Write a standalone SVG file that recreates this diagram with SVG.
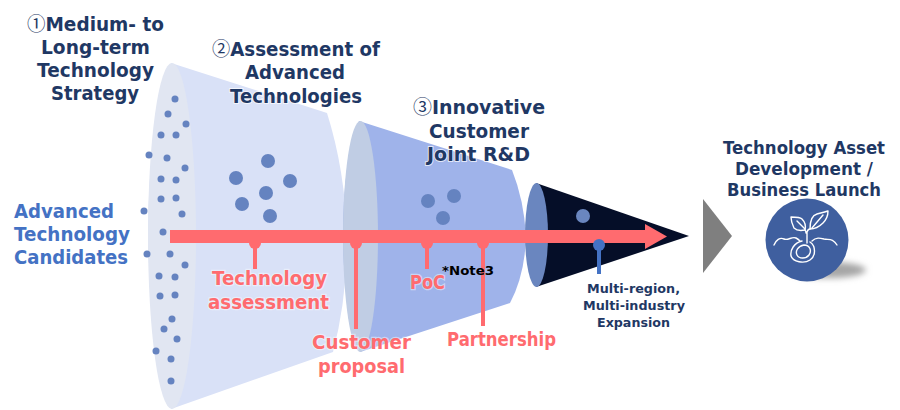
<svg xmlns="http://www.w3.org/2000/svg" width="900" height="410" viewBox="0 0 900 410">
<defs>
<filter id="soft" x="-30%" y="-100%" width="160%" height="300%"><feGaussianBlur stdDeviation="3"/></filter>
</defs>
<style>
text{font-family:"DejaVu Sans",sans-serif;font-weight:700;text-anchor:start}
.num{font-family:"Noto Sans CJK JP","DejaVu Sans",sans-serif;font-weight:400}
.navy{fill:#1f3864;font-size:19px;paint-order:stroke;stroke:#fff;stroke-opacity:.7;stroke-width:2px}
.blue{fill:#4472c4;font-size:19px}
.pink{fill:#ff6b6f;font-size:19px;paint-order:stroke;stroke:#fff;stroke-opacity:.45;stroke-width:2.500px}
.small{fill:#1f3864;font-size:12.500px}
.lg{font-size:17px}
.note{fill:#000;font-size:13px}
.dots circle{fill:#6583c0}
.pin{stroke:#ff6b6f;stroke-width:4;fill:none}
.pinh{fill:#ff6b6f}
.ic{fill:none;stroke:#fff;stroke-width:1.400;stroke-linecap:round;stroke-linejoin:round}
</style>

<g id="cone-1">
<path d="M171 63L327 113Q345 170 347 236Q347 300 333 352L171 409Q148 300 148 236Q148 130 171 63Z" fill="#d9e1f7"/>
<ellipse cx="172" cy="236" rx="24" ry="173" fill="#e1e6f2"/>
<g class="dots">
<circle cx="175" cy="99" r="3.500"/><circle cx="168" cy="114" r="3.500"/><circle cx="186" cy="124" r="3.500"/><circle cx="161" cy="135" r="3.500"/><circle cx="176" cy="135" r="3.500"/><circle cx="149" cy="155" r="3.500"/><circle cx="167" cy="158" r="3.500"/><circle cx="185" cy="168" r="3.500"/><circle cx="161" cy="179" r="3.500"/><circle cx="176" cy="180" r="3.500"/><circle cx="161" cy="199" r="3.500"/><circle cx="176" cy="198" r="3.500"/><circle cx="144" cy="211" r="3.500"/><circle cx="182" cy="214" r="3.500"/><circle cx="163" cy="232" r="3.500"/><circle cx="147" cy="254" r="3.500"/><circle cx="170" cy="254" r="3.500"/><circle cx="185" cy="265" r="3.500"/><circle cx="159" cy="276" r="3.500"/><circle cx="175" cy="277" r="3.500"/><circle cx="160" cy="296" r="3.500"/><circle cx="175" cy="295" r="3.500"/><circle cx="172" cy="319" r="3.500"/><circle cx="164" cy="329" r="3.500"/><circle cx="177" cy="339" r="3.500"/><circle cx="156" cy="351" r="3.500"/><circle cx="171" cy="359" r="3.500"/><circle cx="171" cy="381" r="3.500"/>
<circle cx="268" cy="161" r="7"/><circle cx="236" cy="178" r="7"/><circle cx="290" cy="181" r="7"/><circle cx="266" cy="193" r="7"/><circle cx="242" cy="204" r="7"/><circle cx="270" cy="216" r="7"/>
</g>
</g>

<g id="cone-2">
<path d="M359 121L512 170Q524 200 526 236Q525 275 510 303L360 352Q343 300 343 236Q343 160 359 121Z" fill="#9fb3ea"/>
<ellipse cx="360.500" cy="236.500" rx="17.500" ry="115.500" fill="#c0cde4"/>
<g class="dots"><circle cx="428" cy="201" r="7"/><circle cx="454" cy="196" r="7"/><circle cx="443" cy="218" r="7"/></g>
</g>

<g id="cone-3">
<path d="M536 183L689 236L536 287Z" fill="#050e28"/>
<ellipse cx="536.500" cy="235" rx="11.500" ry="52" fill="#6a86bf"/>
<circle cx="583" cy="216" r="7" fill="#6a86bf"/>
</g>

<g id="connectors">
<path class="pin" d="M255 243V269M356 243V329M427 243V269M483 243V326"/>
<circle class="pinh" cx="255" cy="243" r="6"/><circle class="pinh" cx="356" cy="243" r="6"/><circle class="pinh" cx="427" cy="243" r="6"/><circle class="pinh" cx="483" cy="243" r="6"/>
<path d="M170 230H645V224L667 236.500L645 249V243H170Z" fill="#ff6b6f"/>
<path d="M599 245V274" stroke="#4472c4" stroke-width="4" fill="none"/>
<circle cx="599" cy="245" r="6" fill="#4472c4"/>
<path d="M703 199L732 236L703 273Z" fill="#7f7f7f"/>
</g>

<g id="asset-icon">
<ellipse cx="828" cy="270" rx="38" ry="8" fill="#a6a6a6" filter="url(#soft)"/>
<circle cx="807" cy="240" r="41.500" fill="#3f5f9f"/>
<path class="ic" d="M807 232V243M807 232Q808 229 810 229M806 233Q806 231 805 230"/>
<path class="ic" d="M810 229C810 220 813 215 817 214C821 213 825 212 828 211C828 217 825 221 823 223C819 227 815 229 810 229Z"/>
<path class="ic" d="M805 230C800 231 796 230 794 228C792 224 791 220 791 217C795 217 800 217 802 219C805 222 806 226 805 230Z"/>
<path class="ic" d="M797 221L805 229M823 215L812 228"/>
<path class="ic" d="M774 245C776 240 780 237 784 239C788 241 792 236 796 238C798 239 799 240 800 241"/>
<path class="ic" d="M812 241C816 237 820 238 824 239C829 240 833 238 837 245"/>
<path class="ic" d="M802 241C794 243 790 250 791 256C793 262 804 264 810 260C816 256 816 246 810 242"/>
<path class="ic" d="M804 245C798 246 795 251 797 255C799 259 806 259 809 255C812 251 810 245 804 245Z"/>
</g>

<g id="label-strategy">
<text class="navy" x="27" y="31" textLength="137" lengthAdjust="spacingAndGlyphs"><tspan class="num">①</tspan>Medium- to</text>
<text class="navy" x="41" y="54" textLength="109" lengthAdjust="spacingAndGlyphs">Long-term</text>
<text class="navy" x="37" y="77" textLength="117" lengthAdjust="spacingAndGlyphs">Technology</text>
<text class="navy" x="51" y="100" textLength="88" lengthAdjust="spacingAndGlyphs">Strategy</text>
</g>
<g id="label-candidates">
<text class="blue" x="14" y="218" textLength="100" lengthAdjust="spacingAndGlyphs">Advanced</text>
<text class="blue" x="14" y="241" textLength="116" lengthAdjust="spacingAndGlyphs">Technology</text>
<text class="blue" x="14" y="264" textLength="114" lengthAdjust="spacingAndGlyphs">Candidates</text>
</g>
<g id="label-assessment">
<text class="navy" x="212" y="56" textLength="168" lengthAdjust="spacingAndGlyphs"><tspan class="num">②</tspan>Assessment of</text>
<text class="navy" x="245" y="79" textLength="100" lengthAdjust="spacingAndGlyphs">Advanced</text>
<text class="navy" x="230" y="103" textLength="132" lengthAdjust="spacingAndGlyphs">Technologies</text>
</g>
<g id="label-joint">
<text class="navy" x="413" y="114" textLength="132" lengthAdjust="spacingAndGlyphs"><tspan class="num">③</tspan>Innovative</text>
<text class="navy" x="429" y="138" textLength="100" lengthAdjust="spacingAndGlyphs">Customer</text>
<text class="navy" x="427" y="161" textLength="103" lengthAdjust="spacingAndGlyphs">Joint R&amp;D</text>
</g>
<g id="label-tech-assessment">
<text class="pink" x="212" y="285" textLength="115" lengthAdjust="spacingAndGlyphs">Technology</text>
<text class="pink" x="208" y="309" textLength="121" lengthAdjust="spacingAndGlyphs">assessment</text>
</g>
<g id="label-proposal">
<text class="pink" x="312" y="349" textLength="99" lengthAdjust="spacingAndGlyphs">Customer</text>
<text class="pink" x="318" y="373" textLength="87" lengthAdjust="spacingAndGlyphs">proposal</text>
</g>
<g id="label-poc">
<text class="pink" x="410" y="289" textLength="35" lengthAdjust="spacingAndGlyphs">PoC</text>
<text class="note" x="442" y="275" textLength="52" lengthAdjust="spacingAndGlyphs">*Note3</text>
</g>
<g id="label-partnership">
<text class="pink" x="447" y="346" textLength="109" lengthAdjust="spacingAndGlyphs">Partnership</text>
</g>
<g id="label-expansion">
<text class="small" x="587" y="293" textLength="93" lengthAdjust="spacingAndGlyphs">Multi-region,</text>
<text class="small" x="583" y="310" textLength="102" lengthAdjust="spacingAndGlyphs">Multi-industry</text>
<text class="small" x="597" y="327" textLength="73" lengthAdjust="spacingAndGlyphs">Expansion</text>
</g>
<g id="label-launch">
<text class="navy lg" x="723" y="154" textLength="162" lengthAdjust="spacingAndGlyphs">Technology Asset</text>
<text class="navy lg" x="735" y="175" textLength="138" lengthAdjust="spacingAndGlyphs">Development /</text>
<text class="navy lg" x="727" y="196" textLength="154" lengthAdjust="spacingAndGlyphs">Business Launch</text>
</g>
</svg>
